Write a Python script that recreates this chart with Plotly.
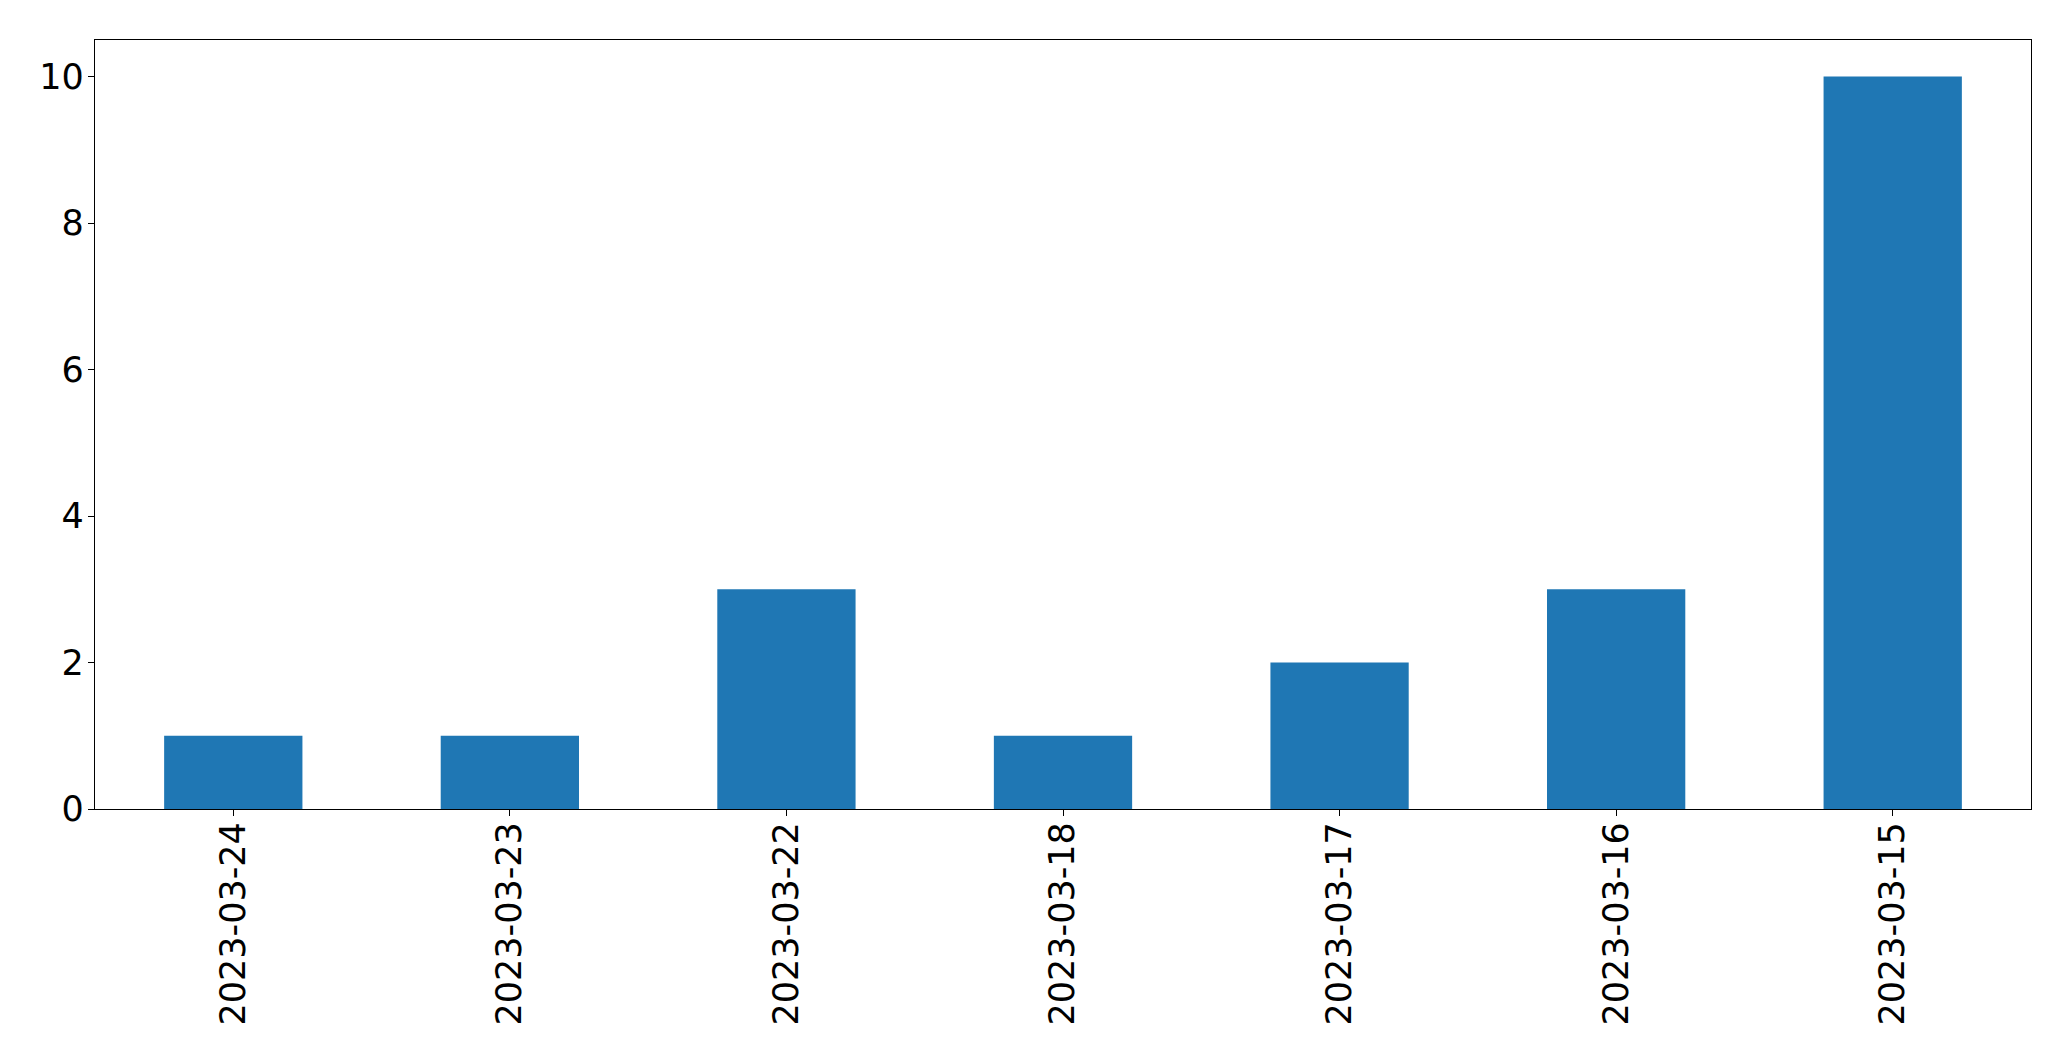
import plotly.graph_objects as go

dates = ["2023-03-24", "2023-03-23", "2023-03-22", "2023-03-18", "2023-03-17", "2023-03-16", "2023-03-15"]
counts = [1, 1, 3, 1, 2, 3, 10]
y_ticks = [0, 2, 4, 6, 8, 10]

fig = go.Figure(go.Bar(x=dates, y=counts, width=0.5, marker=dict(color="#1f77b4", line=dict(width=0))))

fig.update_layout(
    width=2071, height=1061,
    margin=dict(l=94.5, r=39.7, t=39.5, b=252, pad=0),
    paper_bgcolor="white", plot_bgcolor="white",
    font=dict(family="DejaVu Sans", size=35, color="black"),
    showlegend=False,
)
fig.update_xaxes(
    type="category", range=[-0.5, 6.5], tickangle=-90,
    showline=True, linecolor="black", linewidth=1.3, mirror=True,
    ticks="outside", ticklen=6, tickwidth=1.3, tickcolor="black",
    showgrid=False, zeroline=False, ticklabelstandoff=-8,
)
fig.update_yaxes(
    range=[0, 10.5], tickvals=y_ticks,
    showline=True, linecolor="black", linewidth=1.3, mirror=True,
    ticks="outside", ticklen=6, tickwidth=1.3, tickcolor="black",
    showgrid=False, zeroline=False, ticklabelstandoff=-3,
)

fig.write_html(
    "out.html",
    config={"displayModeBar": False},
    post_script="document.body.style.margin='0';document.body.style.overflow='hidden';",
)
